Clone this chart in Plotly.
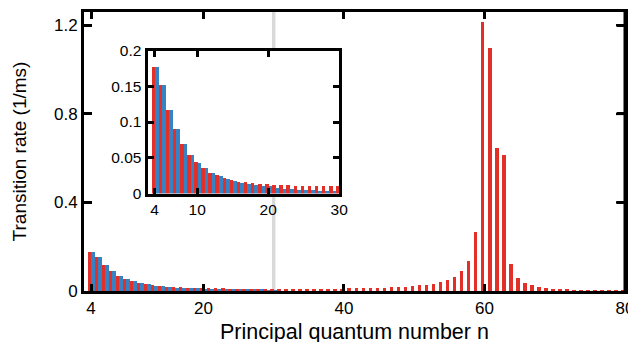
import plotly.graph_objects as go

# principal quantum numbers
n_red = list(range(4, 81))
n_blue = list(range(4, 31))

# transition rates (1/ms), red series, n = 4..80
red_rates = [
    0.177, 0.152, 0.118, 0.091, 0.070, 0.055, 0.045, 0.037, 0.030, 0.026,   # 4-13
    0.023, 0.019, 0.017, 0.0165, 0.015, 0.0137, 0.0137, 0.0128, 0.0124, 0.012,  # 14-23
    0.011, 0.011, 0.011, 0.011, 0.011, 0.011, 0.011,                        # 24-30
    0.010, 0.010, 0.010, 0.010, 0.010, 0.010, 0.010, 0.010, 0.010, 0.010,   # 31-40
    0.0134, 0.0134, 0.0134, 0.0134, 0.0134, 0.0134, 0.018, 0.018, 0.018, 0.022,  # 41-50
    0.027, 0.027, 0.031, 0.039, 0.051, 0.063, 0.090, 0.136, 0.266, 1.216,   # 51-60
    1.098, 0.647, 0.614, 0.122, 0.058, 0.036, 0.027, 0.018, 0.013, 0.009,   # 61-70
    0.009, 0.009, 0.004, 0.004, 0.004, 0.004, 0.003, 0.002, 0.001, 0.001,   # 71-80
]

# transition rates (1/ms), blue series, n = 4..30
blue_rates = [
    0.177, 0.152, 0.118, 0.091, 0.070, 0.055, 0.0435, 0.0357, 0.030, 0.0247,  # 4-13
    0.0206, 0.0183, 0.0156, 0.0133, 0.0124, 0.0114, 0.0105, 0.0082, 0.0069, 0.0064,  # 14-23
    0.0055, 0.0055, 0.005, 0.0046, 0.0046, 0.0041, 0.004,                  # 24-30
]

main_xticks = [4, 20, 40, 60, 80]
main_yticks = [0, 0.4, 0.8, 1.2]
main_yticklabels = ["0", "0.4", "0.8", "1.2"]
inset_xticks = [4, 10, 20, 30]
inset_yticks = [0, 0.05, 0.1, 0.15, 0.2]
inset_yticklabels = ["0", "0.05", "0.1", "0.15", "0.2"]
marker_n = 30
y_max = 1.26

RED = "#e22f28"
BLUE = "#3583c4"
FONT = "Liberation Sans, Arial, sans-serif"

W, H = 628, 342
ML, MR, MT, MB = 84, 3, 12.3, 51.2
plot_w = W - ML - MR

fig = go.Figure()
for xa, ya in [("x", "y"), ("x2", "y2")]:
    fig.add_trace(go.Bar(x=n_red, y=red_rates, marker=dict(color=RED, line=dict(width=0)),
                         xaxis=xa, yaxis=ya, showlegend=False, width=0.5, offset=-0.5))
    fig.add_trace(go.Bar(x=n_blue, y=blue_rates, marker=dict(color=BLUE, line=dict(width=0)),
                         xaxis=xa, yaxis=ya, showlegend=False, width=0.5, offset=0.0))

fig.add_shape(type="line", xref="x", yref="y domain", x0=marker_n, x1=marker_n, y0=0, y1=1,
              line=dict(color="#d9d9d9", width=3.5), layer="below")
fig.add_shape(type="rect", xref="x2 domain", yref="y2 domain", x0=0, x1=1, y0=0, y1=1,
              fillcolor="white", line=dict(width=0), layer="below")

# right frame line and inward ticks of the main axes (paper refs are not clipped)
fig.add_shape(type="line", xref="paper", yref="paper", x0=1, x1=1, y0=-0.005, y1=1.005,
              line=dict(color="black", width=3), layer="above")
for t in main_yticks[1:]:
    fig.add_shape(type="line", xref="paper", yref="paper", x0=1 - 9 / plot_w, x1=1,
                  y0=t / y_max, y1=t / y_max,
                  line=dict(color="black", width=2.5), layer="above")

axis_common = dict(showline=True, linewidth=3, linecolor="black", mirror="ticks",
                   ticks="inside", tickwidth=2.5, tickcolor="black",
                   showgrid=False, zeroline=False, color="black", automargin=False)

fig.add_annotation(text="Principal quantum number n", xref="paper", yref="paper",
                   x=0.5, y=0, yanchor="top", xanchor="center", yshift=-26.5,
                   showarrow=False, font=dict(size=21.5, family=FONT, color="black"))

fig.update_layout(
    width=W, height=H,
    margin=dict(l=ML, r=MR, t=MT, b=MB, autoexpand=False),
    paper_bgcolor="white", plot_bgcolor="white",
    font=dict(family=FONT, color="black"),
    bargap=0, bargroupgap=0, barmode="overlay",
    xaxis=dict(range=[3, 80], tickvals=main_xticks, ticklen=7, tickfont=dict(size=17),
               ticklabeloverflow="allow",
               domain=[0, 1], anchor="y", **axis_common),
    yaxis=dict(range=[0, y_max], tickvals=main_yticks, ticktext=main_yticklabels, ticklen=8,
               tickfont=dict(size=17),
               title=dict(text="Transition rate (1/ms)", font=dict(size=19), standoff=23),
               domain=[0, 1], anchor="x", **axis_common),
    xaxis2=dict(range=[3, 30], tickvals=inset_xticks, ticklen=6, tickfont=dict(size=15.5),
                domain=[0.1174, 0.4717], anchor="y2", **axis_common),
    yaxis2=dict(range=[0, 0.2], tickvals=inset_yticks, ticktext=inset_yticklabels, ticklen=6,
                tickfont=dict(size=15.5), domain=[0.3494, 0.8618], anchor="x2", **axis_common),
)

fig.write_html("out.html")
